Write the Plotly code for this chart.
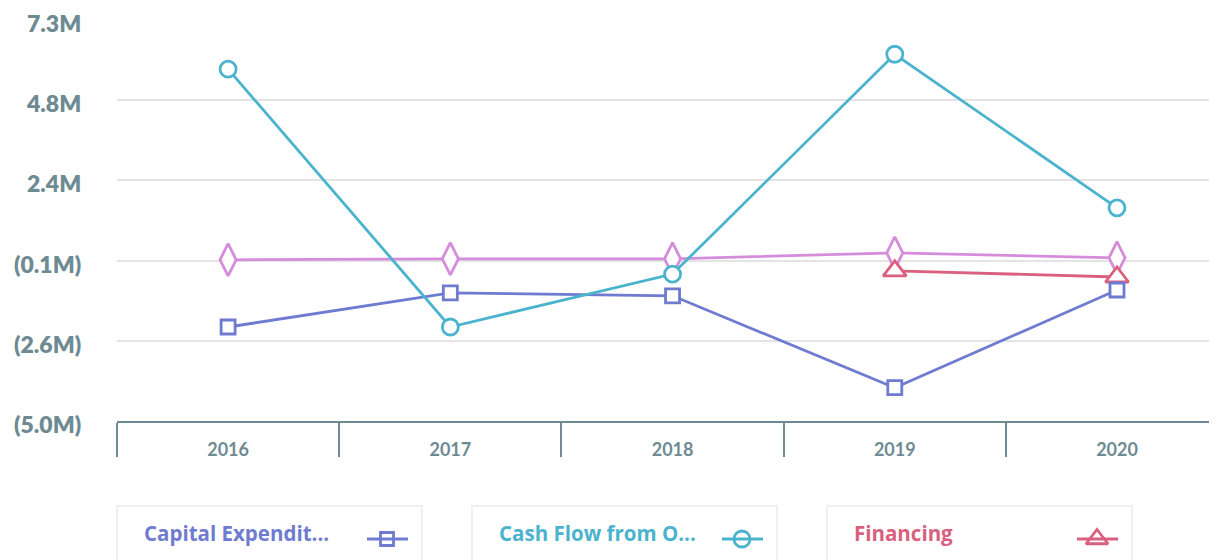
import plotly.graph_objects as go

years = ["2016", "2017", "2018", "2019", "2020"]
capex = [-2.15, -1.10, -1.19, -4.02, -1.01]
cash_ops = [5.79, -2.15, -0.52, 6.25, 1.52]
financing = [None, None, None, -0.42, -0.61]
investing = [-0.08, -0.05, -0.05, 0.13, -0.02]

tick_vals = [-5.04, -2.572, -0.104, 2.364, 4.832, 7.3]
tick_text = ["(5.0M)", "(2.6M)", "(0.1M)", "2.4M", "4.8M", "7.3M"]

legend_names = ["Capital Expendit...", "Cash Flow from O...", "Financing"]

C_CAP = "#6f7bd0"
C_CASH = "#4ab3cd"
C_FIN = "#d9607f"
C_INV = "#d58ddb"
GRAY = "#6e8a92"

OFF = 8  # page body offset in the browser
W, H = 1217 - OFF, 560 - OFF
L, T, B = 117 - OFF, 20 - OFF, 421 - OFF

fig = go.Figure()

def add_series(y, color, symbol, size, name):
    fig.add_trace(go.Scatter(
        x=years, y=y, name=name, mode="lines+markers",
        line=dict(color=color, width=2.8),
        marker=dict(symbol=symbol, size=size, color="white",
                    line=dict(color=color, width=2.8)),
        cliponaxis=False, showlegend=False, connectgaps=False,
    ))

add_series(investing, C_INV, "diamond-tall", 23, "Investing")
add_series(financing, C_FIN, "triangle-up", 20, "Financing")
add_series(capex, C_CAP, "square", 14, "Capital Expenditure")
add_series(cash_ops, C_CASH, "circle", 16, "Cash Flow from Operations")

shapes = []
annotations = []

# y-axis labels as annotations (slightly below their gridlines, as in the reference)
for v, t in zip(tick_vals, tick_text):
    annotations.append(dict(xref="x2", yref="y", x=L - 34, y=v, text=t,
                            showarrow=False, xanchor="right", yanchor="middle",
                            yshift=-3,
                            font=dict(family="Lato", size=23, color=GRAY, weight=800)))

legend_colors = [C_CAP, C_CASH, C_FIN]
legend_symbols = ["square", "circle", "triangle-up"]
legend_sizes = [13, 16, 19]
for i, (nm, col, sym, sz) in enumerate(zip(legend_names, legend_colors, legend_symbols, legend_sizes)):
    x0 = 117 - OFF + i * 355
    shapes.append(dict(type="rect", xref="x2", yref="y2", x0=x0, x1=x0 + 305,
                       y0=506 - OFF, y1=575, line=dict(color="#ececec", width=1.5),
                       fillcolor="rgba(0,0,0,0)", layer="below"))
    shapes.append(dict(type="line", xref="x2", yref="y2", x0=x0 + 250, x1=x0 + 291,
                       y0=539 - OFF, y1=539 - OFF, line=dict(color=col, width=2.8)))
    annotations.append(dict(xref="x2", yref="y2", x=x0 + 25, y=533 - OFF, text=nm,
                            showarrow=False, xanchor="left", yanchor="middle",
                            font=dict(family="Open Sans", size=20.5, color=col, weight=700)))
    fig.add_trace(go.Scatter(
        x=[x0 + 270], y=[539 - OFF], xaxis="x2", yaxis="y2", mode="markers",
        marker=dict(symbol=sym, size=sz, color="white", line=dict(color=col, width=2.8)),
        showlegend=False, hoverinfo="skip", cliponaxis=False,
    ))

fig.update_layout(
    width=W, height=H,
    margin=dict(l=0, r=0, t=0, b=0),
    paper_bgcolor="white", plot_bgcolor="rgba(0,0,0,0)",
    showlegend=False,
    xaxis=dict(
        type="category", domain=[L / W, 1], range=[-0.5, 4.45],
        showgrid=False, zeroline=False,
        showline=True, linecolor=GRAY, linewidth=2,
        ticks="outside", tickson="boundaries", ticklen=34, tickwidth=2, tickcolor=GRAY,
        tickfont=dict(family="Lato", size=18, color=GRAY, weight=700),
        ticklabelstandoff=11, ticklabeloverflow="allow",
        automargin=False, fixedrange=True,
    ),
    yaxis=dict(
        domain=[1 - B / H, 1 - T / H], range=[-5.045, 7.305],
        tickvals=tick_vals, ticktext=tick_text, showticklabels=False,
        showgrid=True, gridcolor="#e4e4e4", gridwidth=1.5,
        zeroline=False, showline=False, ticks="",
        automargin=False, fixedrange=True,
    ),
    xaxis2=dict(domain=[0, 1], range=[0, W], visible=False, anchor="y2", fixedrange=True),
    yaxis2=dict(domain=[0, 1], range=[H, 0], visible=False, anchor="x2", fixedrange=True),
    shapes=shapes,
    annotations=annotations,
)

fig.write_html("out.html")
